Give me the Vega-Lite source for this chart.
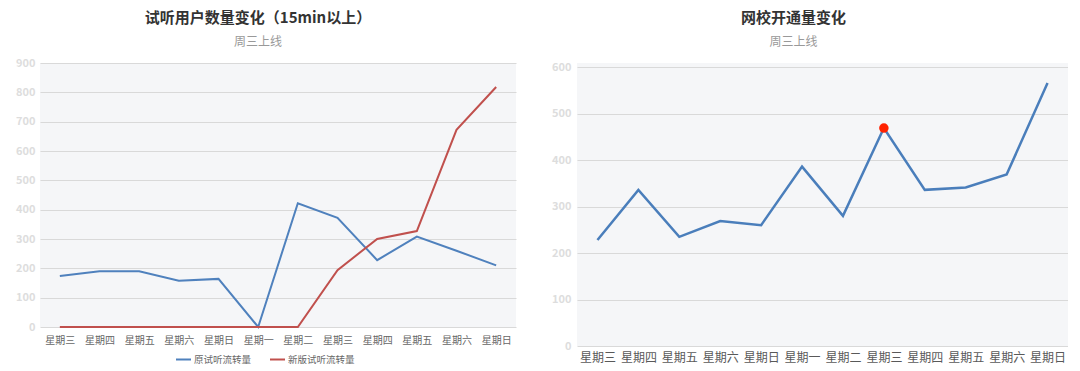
{
  "$schema": "https://vega.github.io/schema/vega-lite/v6.json",
  "background": "white",
  "padding": {"left": 0, "right": 0, "top": 11, "bottom": 0},
  "config": {
    "font": "Noto Sans CJK SC",
    "view": {"stroke": null, "fill": "#f5f6f8"},
    "concat": {"spacing": 20},
    "title": {"fontSize": 15, "fontWeight": "bold", "color": "#333333", "subtitleFontSize": 12, "subtitleColor": "#999999", "subtitlePadding": 11, "anchor": "middle"}
  },
  "datasets": {
    "left": [
      {"d": "01|星期三", "s": "原试听流转量", "v": 174},
      {"d": "02|星期四", "s": "原试听流转量", "v": 190},
      {"d": "03|星期五", "s": "原试听流转量", "v": 190},
      {"d": "04|星期六", "s": "原试听流转量", "v": 158},
      {"d": "05|星期日", "s": "原试听流转量", "v": 164},
      {"d": "06|星期一", "s": "原试听流转量", "v": 0},
      {"d": "07|星期二", "s": "原试听流转量", "v": 422},
      {"d": "08|星期三", "s": "原试听流转量", "v": 372},
      {"d": "09|星期四", "s": "原试听流转量", "v": 228},
      {"d": "10|星期五", "s": "原试听流转量", "v": 308},
      {"d": "11|星期六", "s": "原试听流转量", "v": 260},
      {"d": "12|星期日", "s": "原试听流转量", "v": 210},
      {"d": "01|星期三", "s": "新版试听流转量", "v": 0},
      {"d": "02|星期四", "s": "新版试听流转量", "v": 0},
      {"d": "03|星期五", "s": "新版试听流转量", "v": 0},
      {"d": "04|星期六", "s": "新版试听流转量", "v": 0},
      {"d": "05|星期日", "s": "新版试听流转量", "v": 0},
      {"d": "06|星期一", "s": "新版试听流转量", "v": 0},
      {"d": "07|星期二", "s": "新版试听流转量", "v": 0},
      {"d": "08|星期三", "s": "新版试听流转量", "v": 194},
      {"d": "09|星期四", "s": "新版试听流转量", "v": 300},
      {"d": "10|星期五", "s": "新版试听流转量", "v": 327},
      {"d": "11|星期六", "s": "新版试听流转量", "v": 672},
      {"d": "12|星期日", "s": "新版试听流转量", "v": 818}
    ],
    "right": [
      {"d": "01|星期三", "v": 228, "hl": false},
      {"d": "02|星期四", "v": 336, "hl": false},
      {"d": "03|星期五", "v": 235, "hl": false},
      {"d": "04|星期六", "v": 269, "hl": false},
      {"d": "05|星期日", "v": 260, "hl": false},
      {"d": "06|星期一", "v": 386, "hl": false},
      {"d": "07|星期二", "v": 280, "hl": false},
      {"d": "08|星期三", "v": 469, "hl": true},
      {"d": "09|星期四", "v": 336, "hl": false},
      {"d": "10|星期五", "v": 341, "hl": false},
      {"d": "11|星期六", "v": 369, "hl": false},
      {"d": "12|星期日", "v": 566, "hl": false}
    ]
  },
  "hconcat": [
    {
      "title": {"text": "试听用户数量变化（15min以上）", "subtitle": "周三上线", "offset": 9, "dx": -20},
      "width": 476,
      "height": 264,
      "data": {"name": "left"},
      "mark": {"type": "line", "strokeWidth": 2},
      "encoding": {
        "x": {
          "field": "d", "type": "ordinal", "sort": null,
          "scale": {"type": "point", "padding": 0.5},
          "axis": {"title": null, "labelExpr": "split(datum.value, '|')[1]", "labelAngle": 0, "labelFontSize": 10, "labelColor": "#666666", "labelPadding": 8, "domain": false, "ticks": false, "grid": false}
        },
        "y": {
          "field": "v", "type": "quantitative",
          "scale": {"domain": [0, 900], "nice": false},
          "axis": {"title": null, "values": [0, 100, 200, 300, 400, 500, 600, 700, 800, 900], "labelColor": "#dddddd", "labelFontSize": 11, "labelFontWeight": "bold", "labelPadding": 5, "minExtent": 40, "maxExtent": 40, "domain": false, "ticks": false, "gridColor": "#d9d9d9", "gridWidth": 1}
        },
        "color": {
          "field": "s", "type": "nominal",
          "sort": ["原试听流转量", "新版试听流转量"],
          "scale": {"domain": ["原试听流转量", "新版试听流转量"], "range": ["#4f81bd", "#c0504d"]},
          "legend": {"title": null, "orient": "none", "legendX": 135, "legendY": 288, "direction": "horizontal", "symbolType": "stroke", "symbolSize": 225, "symbolStrokeWidth": 2, "labelFontSize": 9.5, "labelColor": "#666666", "columnPadding": 14, "labelOffset": 2}
        }
      }
    },
    {
      "title": {"text": "网校开通量变化", "subtitle": "周三上线", "offset": 13, "dx": -29},
      "width": 491,
      "height": 283,
      "data": {"name": "right"},
      "encoding": {
        "x": {
          "field": "d", "type": "ordinal", "sort": null,
          "scale": {"type": "point", "padding": 0.5},
          "axis": {"title": null, "labelExpr": "split(datum.value, '|')[1]", "labelAngle": 0, "labelFontSize": 12, "labelColor": "#595959", "labelPadding": 6, "domain": false, "ticks": false, "grid": false}
        },
        "y": {
          "field": "v", "type": "quantitative",
          "scale": {"domain": [0, 609], "nice": false},
          "axis": {"title": null, "values": [0, 100, 200, 300, 400, 500, 600], "labelColor": "#dddddd", "labelFontSize": 11, "labelFontWeight": "bold", "labelPadding": 6, "minExtent": 41, "maxExtent": 41, "domain": false, "ticks": false, "gridColor": "#d9d9d9", "gridWidth": 1}
        }
      },
      "layer": [
        {"mark": {"type": "line", "strokeWidth": 2.5, "color": "#4a7ebb"}},
        {
          "transform": [{"filter": "datum.hl"}],
          "mark": {"type": "point", "filled": true, "color": "#ff2200", "size": 90, "opacity": 1}
        }
      ]
    }
  ]
}
